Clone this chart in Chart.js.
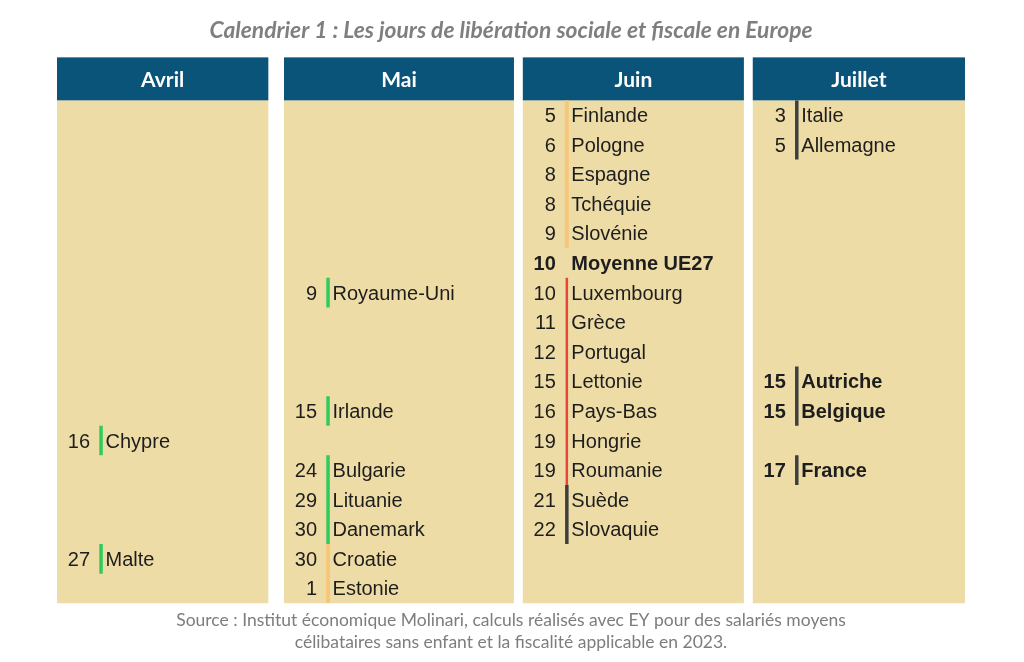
<!DOCTYPE html>
<html lang="fr">
<head>
<meta charset="utf-8">
<script src="https://cdn.jsdelivr.net/npm/chart.js@4.4.1/dist/chart.umd.min.js"></script>
<style>
html, body { margin: 0; padding: 0; background: #fff; }
</style>
</head>
<body>
<canvas id="cal" width="1024" height="662"></canvas>
<script>
const mois = ['Avril', 'Mai', 'Juin', 'Juillet'];

const pays = [
  'Chypre', 'Malte',
  'Royaume-Uni', 'Irlande', 'Bulgarie', 'Lituanie', 'Danemark', 'Croatie', 'Estonie',
  'Finlande', 'Pologne', 'Espagne', 'Tchéquie', 'Slovénie', 'Moyenne UE27', 'Luxembourg', 'Grèce',
  'Portugal', 'Lettonie', 'Pays-Bas', 'Hongrie', 'Roumanie', 'Suède', 'Slovaquie',
  'Italie', 'Allemagne', 'Autriche', 'Belgique', 'France'
];
const jours = [
  16, 27,
  9, 15, 24, 29, 30, 30, 1,
  5, 6, 8, 8, 9, 10, 10, 11,
  12, 15, 16, 19, 19, 21, 22,
  3, 5, 15, 15, 17
];
// index du mois (colonne) de chaque pays
const colonne = [
  0, 0,
  1, 1, 1, 1, 1, 1, 1,
  2, 2, 2, 2, 2, 2, 2, 2,
  2, 2, 2, 2, 2, 2, 2,
  3, 3, 3, 3, 3
];
// ligne dans la colonne
const rang = [
  11, 15,
  6, 10, 12, 13, 14, 15, 16,
  0, 1, 2, 3, 4, 5, 6, 7,
  8, 9, 10, 11, 12, 13, 14,
  0, 1, 9, 10, 12
];
const groupe = [
  'vert', 'vert',
  'vert', 'vert', 'vert', 'vert', 'vert', 'orange', 'orange',
  'orange', 'orange', 'orange', 'orange', 'orange', null, 'rouge', 'rouge',
  'rouge', 'rouge', 'rouge', 'rouge', 'rouge', 'gris', 'gris',
  'gris', 'gris', 'gris', 'gris', 'gris'
];
const gras = [
  false, false,
  false, false, false, false, false, false, false,
  false, false, false, false, false, true, false, false,
  false, false, false, false, false, false, false,
  false, false, true, true, true
];

// mise en page (unités de l'axe x : une colonne = 1)
const panneaux = [[0, 0.931], [1.0, 2.013], [2.052, 3.026], [3.065, 4]];
const decalBarre = 0.194;
const couleurs = { vert: '#2fcb5c', orange: '#f6c77b', rouge: '#e5453b', gris: '#3e3e3e' };
const epaisseurs = { vert: 3.5, orange: 4, rouge: 2.5, gris: 3.5 };
const policeTexte = '"Liberation Sans", Arial, Helvetica, sans-serif';

const barres = Object.keys(couleurs).map(g => {
  const pts = [];
  pays.forEach((p, i) => {
    if (groupe[i] !== g) return;
    const x = panneaux[colonne[i]][0] + decalBarre;
    pts.push({ x: x, y: rang[i] - 0.5 }, { x: x, y: rang[i] + 0.5 }, { x: x, y: null });
  });
  return {
    type: 'line',
    data: pts,
    borderColor: couleurs[g],
    borderWidth: epaisseurs[g],
    borderCapStyle: 'butt',
    pointRadius: 0,
    spanGaps: false,
    tension: 0
  };
});

const etiquettes = {
  type: 'scatter',
  data: pays.map((p, i) => ({ x: panneaux[colonne[i]][0] + decalBarre, y: rang[i] })),
  pointRadius: 0,
  showLine: false
};

const panneauxPlugin = {
  id: 'panneaux',
  beforeDatasetsDraw(chart) {
    const { ctx, chartArea, scales } = chart;
    ctx.save();
    panneaux.forEach((pn, c) => {
      const l = scales.x.getPixelForValue(pn[0]);
      const r = scales.x.getPixelForValue(pn[1]);
      ctx.fillStyle = '#eedca6';
      ctx.fillRect(l, chartArea.top, r - l, chartArea.bottom - chartArea.top);
      ctx.fillStyle = '#0b5479';
      ctx.fillRect(l, chartArea.top - 43, r - l, 43);
      ctx.fillStyle = '#ffffff';
      ctx.font = 'bold 21px Lato';
      ctx.textAlign = 'center';
      ctx.textBaseline = 'middle';
      ctx.fillText(mois[c], (l + r) / 2, chartArea.top - 20);
    });
    ctx.restore();
  },
  afterDatasetsDraw(chart) {
    const { ctx } = chart;
    const meta = chart.getDatasetMeta(chart.data.datasets.length - 1);
    ctx.save();
    ctx.fillStyle = '#1d1d1d';
    ctx.textBaseline = 'middle';
    meta.data.forEach((pt, i) => {
      ctx.font = (gras[i] ? 'bold ' : 'normal ') + '20px ' + policeTexte;
      ctx.textAlign = 'right';
      ctx.fillText(String(jours[i]), pt.x - 11, pt.y + 1.5);
      ctx.textAlign = 'left';
      ctx.fillText(pays[i], pt.x + 4.5, pt.y + 1.5);
    });
    ctx.restore();
  }
};

new Chart(document.getElementById('cal'), {
  type: 'line',
  data: { datasets: [...barres, etiquettes] },
  options: {
    responsive: false,
    animation: false,
    layout: { padding: { left: 57, right: 59, top: 0, bottom: 0 } },
    scales: {
      x: { type: 'linear', min: 0, max: 4, display: false },
      y: { type: 'linear', min: -0.5, max: 16.5, reverse: true, display: false }
    },
    plugins: {
      legend: { display: false },
      tooltip: { enabled: false },
      title: {
        display: true,
        text: 'Calendrier 1 : Les jours de libération sociale et fiscale en Europe',
        color: '#7f7f7f',
        font: { family: 'Lato', size: 22.8, style: 'italic', weight: 'bold', lineHeight: 1.2 },
        padding: { top: 17, bottom: 56 }
      },
      subtitle: {
        display: true,
        position: 'bottom',
        text: [
          'Source : Institut économique Molinari, calculs réalisés avec EY pour des salariés moyens',
          'célibataires sans enfant et la fiscalité applicable en 2023.'
        ],
        color: '#7d7d7d',
        font: { family: 'Lato', size: 17.5, lineHeight: 1.25 },
        padding: { top: 6, bottom: 9 }
      }
    }
  },
  plugins: [panneauxPlugin]
});
</script>
</body>
</html>
